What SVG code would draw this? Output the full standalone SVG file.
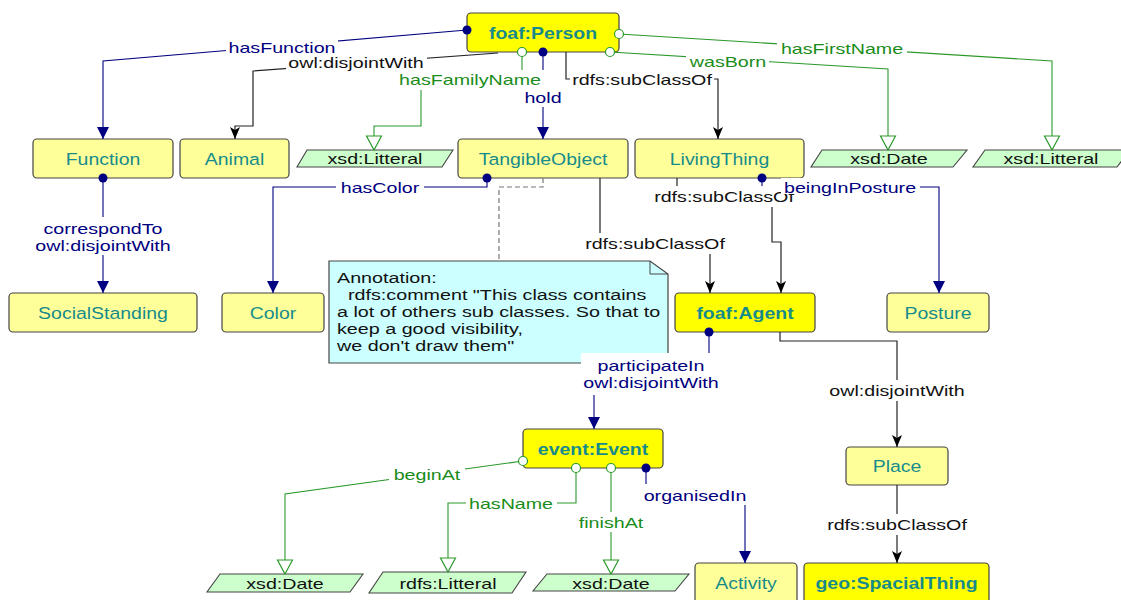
<svg xmlns="http://www.w3.org/2000/svg" width="1121" height="600" viewBox="0 0 1121 600">
<style>
text{font-family:"Liberation Sans",Arial,sans-serif}
.r{fill:#ffff99;stroke:#444;stroke-width:1.2}
.rb{fill:#ffff00;stroke:#444;stroke-width:1.2}
.dt{fill:#ccffcc;stroke:#444;stroke-width:1.1}
.nt{font-size:16.5px;fill:#178b8b;text-anchor:middle}
.b{font-weight:bold}
.dtt{font-size:15px;fill:#111;text-anchor:middle}
.lt{font-size:15px;text-anchor:middle}
.tn{fill:#000080}.tg{fill:#1a8c1a}.tk{fill:#111}
.cn{fill:none;stroke:#000080;stroke-width:1.1}
.cg{fill:none;stroke:#2a992a;stroke-width:1.1}
.ck{fill:none;stroke:#222;stroke-width:1.2}
.bg{fill:#fff}
.dn{fill:#000080}
.og{fill:#fff;stroke:#2a992a;stroke-width:1.2}
.an{font-size:14.5px;fill:#111}
</style>
<defs>
<marker id="aN" viewBox="0 0 12 12" refX="12" refY="6" markerWidth="12" markerHeight="12" markerUnits="userSpaceOnUse" orient="auto"><path d="M0,0 L12,6 L0,12 z" fill="#000080"/></marker>
<marker id="aK" viewBox="0 0 12 12" refX="12" refY="6" markerWidth="12" markerHeight="12" markerUnits="userSpaceOnUse" orient="auto"><path d="M0,1 L12,6 L0,11 L3,6 z" fill="#000"/></marker>
<marker id="aG" viewBox="0 0 16 18" refX="15" refY="9" markerWidth="16" markerHeight="18" markerUnits="userSpaceOnUse" orient="auto"><path d="M1,1.5 L15,9 L1,16.5 z" fill="#fff" stroke="#2a992a" stroke-width="1.2"/></marker>
</defs>
<rect width="1121" height="600" fill="#fff"/>

<g id="nodes">
<g id="person"><rect class="rb" x="467" y="13" width="152" height="39" rx="4"/><text class="nt b" transform="translate(543,38.5) scale(1.18,1)">foaf:Person</text></g>
<g id="function"><rect class="r" x="33" y="139" width="140" height="39" rx="4"/><text class="nt" transform="translate(103,164.5) scale(1.18,1)">Function</text></g>
<g id="animal"><rect class="r" x="180" y="139" width="109" height="39" rx="4"/><text class="nt" transform="translate(234.5,164.5) scale(1.18,1)">Animal</text></g>
<g id="dtLitteral1"><polygon class="dt" points="307,150 453,150 442,167 297,167"/><text class="dtt" transform="translate(375,164) scale(1.31,1)">xsd:Litteral</text></g>
<g id="tangible"><rect class="r" x="458" y="139" width="170" height="39" rx="4"/><text class="nt" transform="translate(543,164.5) scale(1.18,1)">TangibleObject</text></g>
<g id="living"><rect class="r" x="635" y="139" width="169" height="39" rx="4"/><text class="nt" transform="translate(719.5,164.5) scale(1.18,1)">LivingThing</text></g>
<g id="dtDate1"><polygon class="dt" points="822,150 967,150 953,167 811,167"/><text class="dtt" transform="translate(889,164) scale(1.31,1)">xsd:Date</text></g>
<g id="dtLitteral2"><polygon class="dt" points="985,150 1130,150 1117,167 973,167"/><text class="dtt" transform="translate(1051,164) scale(1.31,1)">xsd:Litteral</text></g>
<g id="social"><rect class="r" x="9" y="293" width="188" height="39" rx="4"/><text class="nt" transform="translate(103,318.5) scale(1.18,1)">SocialStanding</text></g>
<g id="color"><rect class="r" x="222" y="293" width="102" height="39" rx="4"/><text class="nt" transform="translate(273,318.5) scale(1.18,1)">Color</text></g>
<g id="annotation">
<path d="M329,261 L650,261 L668,274 L668,363 L329,363 z" fill="#ccffff" stroke="#444" stroke-width="1.2"/>
<path d="M650,261 L650,274 L668,274" fill="none" stroke="#444" stroke-width="1"/>
<text class="an" transform="translate(337,283) scale(1.36,1)">Annotation:</text>
<text class="an" transform="translate(348,300) scale(1.36,1)">rdfs:comment "This class contains</text>
<text class="an" transform="translate(337,317) scale(1.36,1)">a lot of others sub classes. So that to</text>
<text class="an" transform="translate(337,334) scale(1.36,1)">keep a good visibility,</text>
<text class="an" transform="translate(337,351) scale(1.36,1)">we don't draw them"</text>
</g>
<g id="agent"><rect class="rb" x="675" y="293" width="140" height="39" rx="4"/><text class="nt b" transform="translate(745,318.5) scale(1.18,1)">foaf:Agent</text></g>
<g id="posture"><rect class="r" x="887" y="293" width="102" height="39" rx="4"/><text class="nt" transform="translate(938,318.5) scale(1.18,1)">Posture</text></g>
<g id="event"><rect class="rb" x="523" y="429" width="140" height="39" rx="4"/><text class="nt b" transform="translate(593,454.5) scale(1.18,1)">event:Event</text></g>
<g id="place"><rect class="r" x="846" y="447" width="102" height="38" rx="4"/><text class="nt" transform="translate(897,472) scale(1.18,1)">Place</text></g>
<g id="activity"><rect class="r" x="695" y="563" width="102" height="45" rx="4"/><text class="nt" transform="translate(746,589) scale(1.18,1)">Activity</text></g>
<g id="spacial"><rect class="rb" x="804" y="563" width="185" height="45" rx="4"/><text class="nt b" transform="translate(896.5,589) scale(1.18,1)">geo:SpacialThing</text></g>
<g id="dtDate2"><polygon class="dt" points="220,574 363,574 350,592 207,592"/><text class="dtt" transform="translate(285,588.5) scale(1.31,1)">xsd:Date</text></g>
<g id="dtRdfsLitteral"><polygon class="dt" points="383,572 526,572 512,593 369,593"/><text class="dtt" transform="translate(448,588.5) scale(1.31,1)">rdfs:Litteral</text></g>
<g id="dtDate3"><polygon class="dt" points="547,574 689,574 675,591 533,591"/><text class="dtt" transform="translate(611,588.5) scale(1.31,1)">xsd:Date</text></g>
</g>

<g id="connectors">
<path class="cn" d="M467,30 L103,61 L103,139" marker-end="url(#aN)"/>
<path class="ck" d="M498,53 L253,71 L253,126 L235,126 L235,139" marker-end="url(#aK)"/>
<path class="cg" d="M522,52 L522,80 L421,80 L421,126 L374,126 L374,150" marker-end="url(#aG)"/>
<path class="cn" d="M543,52 L543,139" marker-end="url(#aN)"/>
<path class="ck" d="M566,52 L566,79 L718,79 L718,139" marker-end="url(#aK)"/>
<path class="cg" d="M610,52 L888,69 L888,150" marker-end="url(#aG)"/>
<path class="cg" d="M619,34 L1052,61 L1052,150" marker-end="url(#aG)"/>
<path class="cn" d="M103,178 L103,293" marker-end="url(#aN)"/>
<path class="cn" d="M487,178 L487,187 L273,187 L273,293" marker-end="url(#aN)"/>
<path d="M543,178 L543,187 L499,187 L499,261" fill="none" stroke="#777" stroke-width="1.2" stroke-dasharray="5,3"/>
<path class="ck" d="M600,178 L600,243 L710,243 L710,293" marker-end="url(#aK)"/>
<path class="ck" d="M677,178 L677,196 L772,196 L772,242 L781,242 L781,293" marker-end="url(#aK)"/>
<path class="cn" d="M762,178 L762,187 L939,187 L939,293" marker-end="url(#aN)"/>
<path class="ck" d="M780,332 L780,341 L897,341 L897,447" marker-end="url(#aK)"/>
<path class="cn" d="M709,332 L709,374 L594,374 L594,429" marker-end="url(#aN)"/>
<path class="cg" d="M523,461 L285,494 L285,574" marker-end="url(#aG)"/>
<path class="cg" d="M576,468 L576,503 L448,503 L448,572" marker-end="url(#aG)"/>
<path class="cg" d="M611,468 L611,574" marker-end="url(#aG)"/>
<path class="cn" d="M646,468 L646,495 L745,495 L745,563" marker-end="url(#aN)"/>
<path class="ck" d="M897,485 L897,563" marker-end="url(#aK)"/>

<circle class="dn" cx="467" cy="30" r="4.5"/>
<circle class="og" cx="522" cy="52" r="4.5"/>
<circle class="dn" cx="543" cy="52" r="4.5"/>
<circle class="og" cx="610" cy="52" r="4.5"/>
<circle class="og" cx="619" cy="34" r="4.5"/>
<circle class="dn" cx="103" cy="178" r="4.5"/>
<circle class="dn" cx="487" cy="178" r="4.5"/>
<circle class="dn" cx="762" cy="178" r="4.5"/>
<circle class="dn" cx="709" cy="332" r="4.5"/>
<circle class="og" cx="523" cy="461" r="4.5"/>
<circle class="og" cx="576" cy="468" r="4.5"/>
<circle class="og" cx="611" cy="468" r="4.5"/>
<circle class="dn" cx="646" cy="468" r="4.5"/>

<rect class="bg" x="226" y="37" width="112" height="20"/>
<text class="lt tn" transform="translate(282,52.5) scale(1.31,1)">hasFunction</text>
<rect class="bg" x="286" y="53" width="141" height="18"/>
<text class="lt tk" transform="translate(356,67.5) scale(1.31,1)">owl:disjointWith</text>
<rect class="bg" x="398" y="70" width="146" height="20"/>
<text class="lt tg" transform="translate(470,84.5) scale(1.31,1)">hasFamilyName</text>
<rect class="bg" x="522" y="88" width="42" height="19"/>
<text class="lt tn" transform="translate(543,102.5) scale(1.31,1)">hold</text>
<rect class="bg" x="570" y="70" width="144" height="19"/>
<text class="lt tk" transform="translate(642,84.5) scale(1.31,1)">rdfs:subClassOf</text>
<rect class="bg" x="686" y="52" width="83" height="19"/>
<text class="lt tg" transform="translate(728,66.5) scale(1.31,1)">wasBorn</text>
<rect class="bg" x="777" y="39" width="130" height="19"/>
<text class="lt tg" transform="translate(842,53.5) scale(1.31,1)">hasFirstName</text>
<rect class="bg" x="38" y="217" width="130" height="38"/>
<text class="lt tn" transform="translate(103,233.5) scale(1.31,1)">correspondTo</text>
<text class="lt tn" transform="translate(103,250.5) scale(1.31,1)">owl:disjointWith</text>
<rect class="bg" x="336" y="178" width="88" height="18"/>
<text class="lt tn" transform="translate(380,192.5) scale(1.31,1)">hasColor</text>
<rect class="bg" x="581" y="233" width="148" height="21"/>
<text class="lt tk" transform="translate(655,248.5) scale(1.31,1)">rdfs:subClassOf</text>
<rect class="bg" x="650" y="186" width="148" height="21"/>
<text class="lt tk" transform="translate(724,201.5) scale(1.31,1)">rdfs:subClassOf</text>
<rect class="bg" x="781" y="178" width="139" height="16"/>
<text class="lt tn" transform="translate(850,192.5) scale(1.31,1)">beingInPosture</text>
<rect class="bg" x="824" y="380" width="146" height="21"/>
<text class="lt tk" transform="translate(897,395.5) scale(1.31,1)">owl:disjointWith</text>
<rect class="bg" x="581" y="353" width="141" height="42"/>
<text class="lt tn" transform="translate(651,370.5) scale(1.31,1)">participateIn</text>
<text class="lt tn" transform="translate(651,387.5) scale(1.31,1)">owl:disjointWith</text>
<rect class="bg" x="389" y="464" width="76" height="20"/>
<text class="lt tg" transform="translate(427,479.5) scale(1.31,1)">beginAt</text>
<rect class="bg" x="466" y="493" width="91" height="20"/>
<text class="lt tg" transform="translate(511,508.5) scale(1.31,1)">hasName</text>
<rect class="bg" x="575" y="512" width="72" height="20"/>
<text class="lt tg" transform="translate(611,527.5) scale(1.31,1)">finishAt</text>
<rect class="bg" x="640" y="484" width="110" height="21"/>
<text class="lt tn" transform="translate(695,500.5) scale(1.31,1)">organisedIn</text>
<rect class="bg" x="824" y="514" width="146" height="21"/>
<text class="lt tk" transform="translate(897,529.5) scale(1.31,1)">rdfs:subClassOf</text>
</g>
</svg>
